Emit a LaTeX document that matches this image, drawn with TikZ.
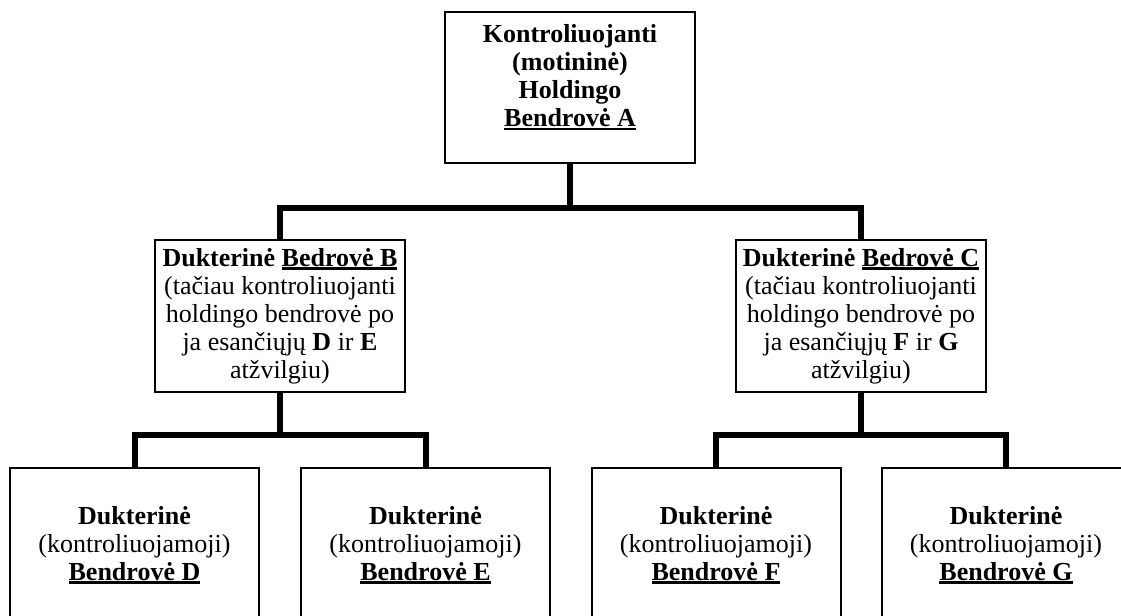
\documentclass[tikz,border=0pt]{standalone}
\usepackage{fontspec}
\setmainfont{Liberation Serif}
\usepackage{tikz}
\usetikzlibrary{positioning}
\newcommand{\undl}[1]{\setbox0=\hbox{#1}\rlap{\rule[-2.6pt]{\wd0}{1.7pt}}\box0}

\begin{document}
\begin{tikzpicture}[x=0.75pt,y=-0.75pt,
		box/.style={draw=black, line width=1.5pt, align=center, inner sep=0pt, font=\fontsize{19.5}{21}\selectfont},
		topbox/.style={box, minimum width=187.5pt, minimum height=113.25pt, font=\fontsize{19.5}{21}\selectfont\bfseries},
		midbox/.style={box, minimum width=187.5pt, minimum height=114pt},
		lowbox/.style={box, minimum width=186.75pt, minimum height=115.5pt},
		link/.style={draw=black, line width=4.5pt}]
	\useasboundingbox (0,0) rectangle (1121,616);
	% holding company
	\node[topbox] (A) at (570,87.5) {Kontroliuojanti\\(motininė)\\Holdingo\\\undl{Bendrovė A}\\[-3pt]\mbox{}};
	% second level
	\node[midbox] (B) at (280,316) {\textbf{Dukterinė \undl{Bedrovė B}}\\(tačiau kontroliuojanti\\holdingo bendrovė po\\ja esančiųjų \textbf{D} ir \textbf{E}\\atžvilgiu)};
	\node[midbox] (C) at (861,316) {\textbf{Dukterinė \undl{Bedrovė C}}\\(tačiau kontroliuojanti\\holdingo bendrovė po\\ja esančiųjų \textbf{F} ir \textbf{G}\\atžvilgiu)};
	% third level
	\node[lowbox] (D) at (134.5,545) {\textbf{Dukterinė}\\(kontroliuojamoji)\\\textbf{\undl{Bendrovė D}}};
	\node[lowbox] (E) at (425.5,545) {\textbf{Dukterinė}\\(kontroliuojamoji)\\\textbf{\undl{Bendrovė E}}};
	\node[lowbox] (F) at (716,545) {\textbf{Dukterinė}\\(kontroliuojamoji)\\\textbf{\undl{Bendrovė F}}};
	\node[lowbox] (G) at (1006,545) {\textbf{Dukterinė}\\(kontroliuojamoji)\\\textbf{\undl{Bendrovė G}}};
	% connectors
	\coordinate (jA) at (570,208);
	\coordinate (jB) at (280,435);
	\coordinate (jC) at (861,435);
	\draw[link] (A.south) -- (jA);
	\draw[link] (B.north) |- (jA) -| (C.north);
	\draw[link] (B.south) -- (jB);
	\draw[link] (D.north) |- (jB) -| (E.north);
	\draw[link] (C.south) -- (jC);
	\draw[link] (F.north) |- (jC) -| (G.north);
\end{tikzpicture}
\end{document}
